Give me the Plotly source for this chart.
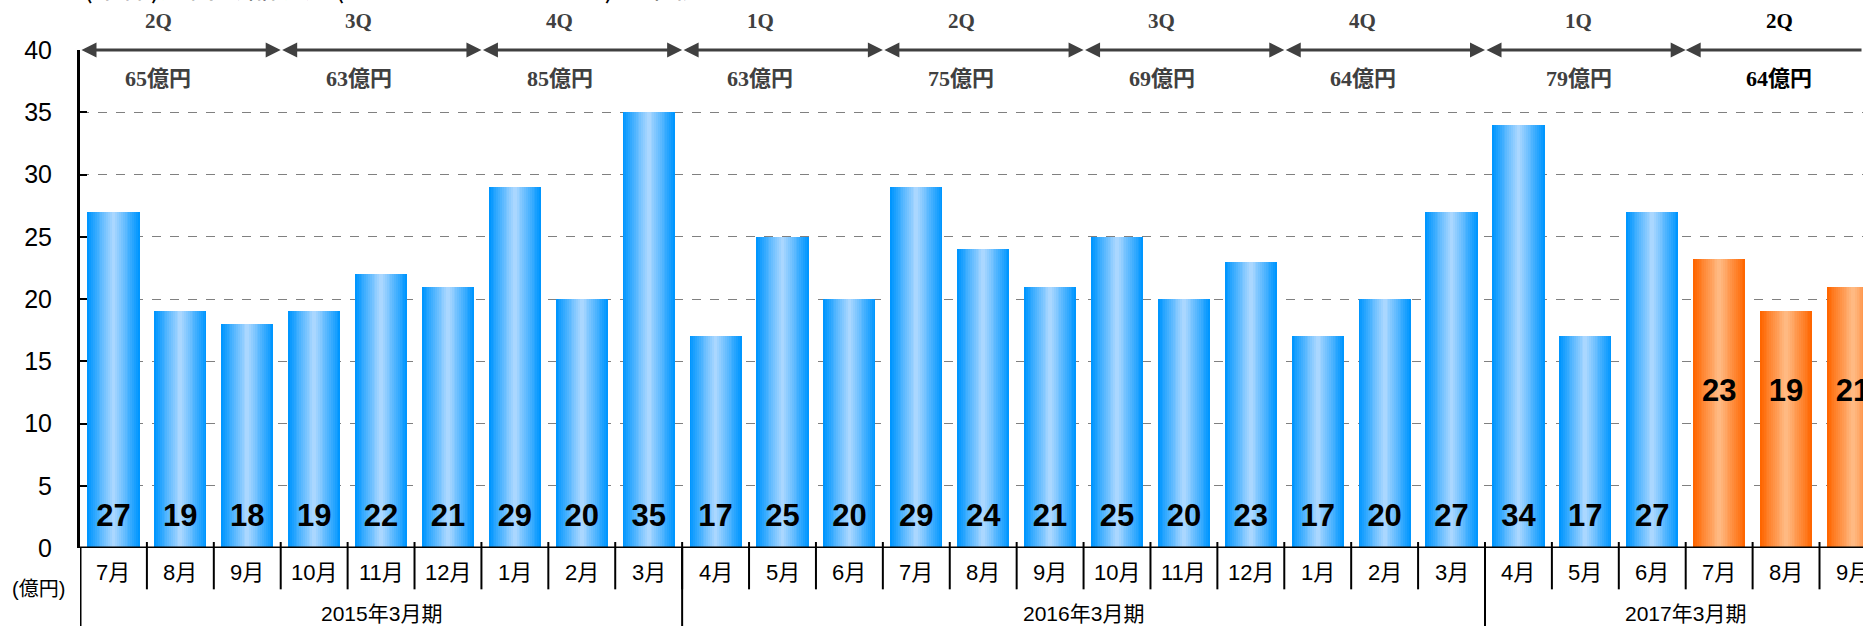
import plotly.graph_objects as go

# ---------------- data ----------------
months = ["7月", "8月", "9月", "10月", "11月", "12月", "1月", "2月", "3月",
          "4月", "5月", "6月", "7月", "8月", "9月", "10月", "11月", "12月", "1月", "2月", "3月",
          "4月", "5月", "6月", "7月", "8月", "9月"]
actual_values = [27, 19, 18, 19, 22, 21, 29, 20, 35,
                 17, 25, 20, 29, 24, 21, 25, 20, 23, 17, 20, 27,
                 34, 17, 27]
forecast_values = [23.2, 19, 21]
fiscal_years = ["2015年3月期", "2016年3月期", "2017年3月期"]
fiscal_year_months = [9, 12, 6]
quarters = ["2Q", "3Q", "4Q", "1Q", "2Q", "3Q", "4Q", "1Q", "2Q"]
quarter_totals = ["65億円", "63億円", "85億円", "63億円", "75億円", "69億円", "64億円", "79億円", "64億円"]
title_text = "【(本体)月間商品流通(マーケットプレイス)の推移】"
y_unit = "(億円)"

# ---------------- helpers ----------------
n = len(months)
x_actual = list(range(len(actual_values)))
x_forecast = list(range(len(actual_values), len(actual_values) + len(forecast_values)))
X_END = 26.15
BAR_W = 0.78


def lerp(c1, c2, t):
    return "rgb(%d,%d,%d)" % tuple(round(a + (b - a) * t) for a, b in zip(c1, c2))


BLUE_EDGE, BLUE_MID = (0, 150, 255), (170, 215, 255)
ORANGE_EDGE, ORANGE_MID = (255, 102, 0), (255, 185, 130)

fig = go.Figure()
LAYERS = 14
for k in range(LAYERS):
    t = k / (LAYERS - 1)
    w = BAR_W * (1 - k / LAYERS)
    fig.add_trace(go.Bar(x=x_actual, y=actual_values, width=w,
                         marker=dict(color=lerp(BLUE_EDGE, BLUE_MID, t), line=dict(width=0)),
                         hoverinfo="skip", showlegend=False))
    fig.add_trace(go.Bar(x=x_forecast, y=forecast_values, width=w,
                         marker=dict(color=lerp(ORANGE_EDGE, ORANGE_MID, t), line=dict(width=0)),
                         hoverinfo="skip", showlegend=False))

label_font = dict(family="Liberation Sans, Arial, sans-serif", size=31, color="black")
fig.add_trace(go.Scatter(x=x_actual, y=[2.4] * len(x_actual), mode="text",
                         text=["<b>%.0f</b>" % v for v in actual_values],
                         textfont=label_font, hoverinfo="skip", showlegend=False, cliponaxis=False))
fig.add_trace(go.Scatter(x=x_forecast, y=[12.4] * len(x_forecast), mode="text",
                         text=["<b>%.0f</b>" % v for v in forecast_values],
                         textfont=label_font, hoverinfo="skip", showlegend=False, cliponaxis=True))

annotations = []
shapes = []
sans = "Liberation Sans, Arial, Noto Sans CJK JP, sans-serif"
serif = "Liberation Serif, Times New Roman, Noto Sans CJK JP, serif"

# month labels
for i, m in enumerate(months):
    annotations.append(dict(x=i, y=0, xref="x", yref="y", yshift=-24, text=m, showarrow=False,
                            font=dict(family=sans, size=22, color="black")))
# month separators
for i in range(n - 1):
    shapes.append(dict(type="line", xref="x", yref="paper", x0=i + 0.5, x1=i + 0.5,
                       y0=0.012, y1=-0.083, line=dict(color="black", width=2)))
# fiscal year labels and separators
start = 0
for fy, cnt in zip(fiscal_years, fiscal_year_months):
    end = start + cnt - 1
    annotations.append(dict(x=(start + end) / 2, y=0, xref="x", yref="y", yshift=-65, text=fy,
                            showarrow=False, font=dict(family=sans, size=21, color="black")))
    shapes.append(dict(type="line", xref="x", yref="paper", x0=start - 0.5, x1=start - 0.5,
                       y0=0, y1=-0.16, line=dict(color="black", width=2 if start else 3)))
    start += cnt

annotations.append(dict(x=-0.0395, y=-0.082, xref="paper", yref="paper", xanchor="left",
                        yanchor="middle", text=y_unit, showarrow=False,
                        font=dict(family=sans, size=20, color="black")))

# quarter arrows and labels
for q, (ql, qt) in enumerate(zip(quarters, quarter_totals)):
    left = 3 * q - 0.5
    right = min(left + 3, X_END)
    last = q == len(quarters) - 1
    if last:
        annotations.append(dict(x=left, y=40, ax=right, ay=40, xref="x", yref="y", axref="x", ayref="y",
                                text="", showarrow=True, arrowhead=2, arrowside="end",
                                arrowsize=1, arrowwidth=3, arrowcolor="#404040"))
    else:
        annotations.append(dict(x=right, y=40, ax=left, ay=40, xref="x", yref="y", axref="x", ayref="y",
                                text="", showarrow=True, arrowhead=2, arrowside="end+start",
                                arrowsize=1, arrowwidth=3, arrowcolor="#404040"))
    cx = left + 1.5 - (0.1 if q >= 7 else 0.33)
    col = "black" if last else "#404040"
    annotations.append(dict(x=cx, y=40, xref="x", yref="y", yshift=29, text="<b>%s</b>" % ql,
                            showarrow=False, font=dict(family=serif, size=21, color=col)))
    annotations.append(dict(x=cx, y=40, xref="x", yref="y", yshift=-28, text="<b>%s</b>" % qt,
                            showarrow=False, font=dict(family=serif, size=22, color=col)))

# title (clipped at top of page)
annotations.append(dict(x=-0.0157, y=1, xref="paper", yref="paper", yshift=42, xanchor="left",
                        yanchor="bottom", text=title_text, showarrow=False,
                        font=dict(family="Noto Sans CJK JP, sans-serif", size=29, color="black")))

shapes.append(dict(type="line", xref="paper", yref="y", x0=0, x1=1, y0=0, y1=0,
                   line=dict(color="black", width=3)))

fig.update_layout(
    width=1863, height=626,
    margin=dict(l=80, r=0, t=50, b=78),
    paper_bgcolor="white", plot_bgcolor="white",
    barmode="overlay", bargap=0,
    showlegend=False,
    annotations=annotations, shapes=shapes,
    xaxis=dict(range=[-0.5, X_END], showticklabels=False, showgrid=False, zeroline=False,
               showline=False, fixedrange=True),
    yaxis=dict(range=[0, 40], tickvals=[0, 5, 10, 15, 20, 25, 30, 35, 40], showgrid=True,
               gridcolor="#808080", griddash="dash", gridwidth=1, zeroline=False,
               showline=True, linecolor="black", linewidth=3, ticks="inside", ticklen=7,
               tickwidth=2, tickcolor="black", ticklabelstandoff=20,
               tickfont=dict(family=sans, size=25, color="black")),
)

fig.write_html("out.html", config={"displayModeBar": False},
               post_script="document.body.style.margin='0';document.body.style.overflow='hidden';")
